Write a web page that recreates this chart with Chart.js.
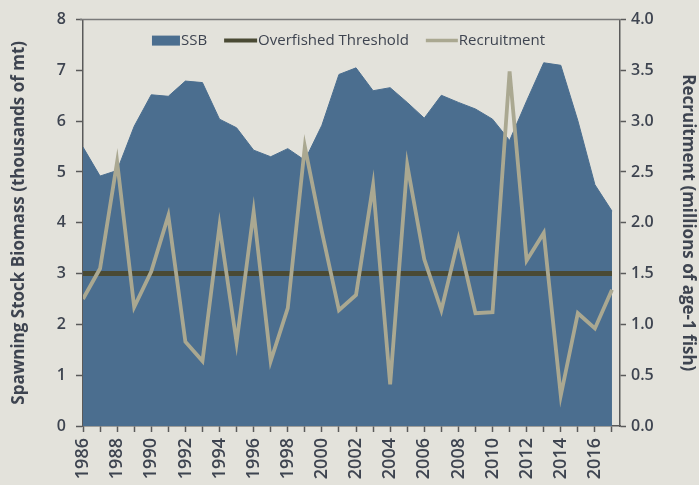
<!DOCTYPE html>
<html lang="en">
  <head>
    <meta charset="UTF-8" />
    <title>Spawning Stock Biomass and Recruitment</title>
    <script src="https://cdn.jsdelivr.net/npm/chart.js"></script>
    <style>
      body {
        margin: 0;
        background-color: #e3e2db;
      }

      .chart-box {
        width: 699px;
        height: 485px;
      }
    </style>
  </head>
  <body>
    <div class="chart-box">
      <canvas id="stockChart" width="699" height="485"></canvas>
    </div>

    <script>
      const years = [
        1986, 1987, 1988, 1989, 1990, 1991, 1992, 1993, 1994, 1995, 1996,
        1997, 1998, 1999, 2000, 2001, 2002, 2003, 2004, 2005, 2006, 2007,
        2008, 2009, 2010, 2011, 2012, 2013, 2014, 2015, 2016, 2017,
      ];

      // thousands of mt
      const ssb = [
        5.49, 4.92, 5.03, 5.9, 6.52, 6.49, 6.79, 6.76, 6.04, 5.87, 5.43,
        5.3, 5.46, 5.23, 5.92, 6.92, 7.05, 6.6, 6.66, 6.37, 6.06, 6.51,
        6.37, 6.24, 6.04, 5.62, 6.4, 7.15, 7.1, 6.01, 4.75, 4.23,
      ];

      // millions of age-1 fish
      const recruitment = [
        1.25, 1.55, 2.6, 1.17, 1.52, 2.07, 0.83, 0.64, 1.97, 0.82, 2.11,
        0.64, 1.16, 2.75, 1.91, 1.14, 1.29, 2.37, 0.41, 2.57, 1.64, 1.14,
        1.84, 1.11, 1.12, 3.49, 1.63, 1.9, 0.3, 1.11, 0.96, 1.34,
      ];

      const overfishedThreshold = years.map(() => 3);

      const textColor = "#3e4450";
      const axisColor = "#5a5a5a";
      const ssbColor = "#4b6e8f";
      const thresholdColor = "#4a4a34";
      const recruitColor = "#aaa891";

      const toPoints = (values) => years.map((yr, i) => ({ x: yr, y: values[i] }));

      // legend drawn inside the plot, swatch right against the label
      const insideLegend = {
        id: "insideLegend",
        afterDraw(chart) {
          const { ctx, chartArea } = chart;
          const items = [
            { text: "SSB", kind: "box", color: ssbColor, w: 28 },
            { text: "Overfished Threshold", kind: "line", color: thresholdColor, w: 33, lw: 4 },
            { text: "Recruitment", kind: "line", color: recruitColor, w: 32, lw: 3.5 },
          ];
          const gap = 17;
          ctx.save();
          ctx.font = "500 15px 'Open Sans'";
          ctx.textBaseline = "middle";
          let total = 0;
          items.forEach((it, i) => {
            it.tw = ctx.measureText(it.text).width;
            total += it.w + 1 + it.tw + (i ? gap : 0);
          });
          let x = (chartArea.left + chartArea.right) / 2 - total / 2 - 3;
          const y = chartArea.top + 21;
          items.forEach((it) => {
            if (it.kind === "box") {
              ctx.fillStyle = it.color;
              ctx.fillRect(x, y - 5, it.w, 10);
            } else {
              ctx.strokeStyle = it.color;
              ctx.lineWidth = it.lw;
              ctx.beginPath();
              ctx.moveTo(x, y);
              ctx.lineTo(x + it.w, y);
              ctx.stroke();
            }
            x += it.w + 1;
            ctx.fillStyle = textColor;
            ctx.fillText(it.text, x, y);
            x += it.tw + gap;
          });

          // top frame line
          ctx.strokeStyle = "#7a7a7a";
          ctx.lineWidth = 1.5;
          ctx.beginPath();
          ctx.moveTo(chartArea.left - 3, chartArea.top);
          ctx.lineTo(chartArea.right, chartArea.top);
          ctx.stroke();
          ctx.restore();
        },
      };

      const tickFont = { family: "'Open Sans'", size: 16, weight: 600 };
      const yearFont = { family: "'Open Sans'", size: 18, weight: 600 };
      const titleFont = { family: "'Open Sans'", size: 17, weight: "bold" };

      new Chart(document.getElementById("stockChart").getContext("2d"), {
        type: "line",
        data: {
          datasets: [
            {
              label: "SSB",
              data: toPoints(ssb),
              yAxisID: "y",
              fill: "origin",
              backgroundColor: ssbColor,
              borderColor: ssbColor,
              borderWidth: 1,
              pointRadius: 0,
              order: 3,
            },
            {
              label: "Overfished Threshold",
              data: toPoints(overfishedThreshold),
              yAxisID: "y",
              borderColor: thresholdColor,
              borderWidth: 5,
              pointRadius: 0,
              order: 2,
            },
            {
              label: "Recruitment",
              data: toPoints(recruitment),
              yAxisID: "y1",
              borderColor: recruitColor,
              borderWidth: 3.8,
              pointRadius: 0,
              order: 1,
            },
          ],
        },
        options: {
          responsive: false,
          animation: false,
          layout: { padding: { top: 15 } },
          plugins: {
            legend: { display: false },
            tooltip: { enabled: false },
          },
          scales: {
            x: {
              type: "linear",
              min: 1986,
              max: 2017.47,
              afterBuildTicks: (scale) => {
                scale.ticks = years.map((yr) => ({ value: yr }));
              },
              afterFit: (scale) => {
                scale.height = 59;
              },
              ticks: {
                autoSkip: false,
                minRotation: 90,
                maxRotation: 90,
                padding: 6,
                color: textColor,
                font: yearFont,
                callback: (v) => (v % 2 === 0 ? String(v) : ""),
              },
              grid: {
                drawOnChartArea: false,
                tickLength: 6,
                tickWidth: 1.5,
                color: axisColor,
              },
              border: { color: axisColor, width: 1.5 },
            },
            y: {
              position: "left",
              min: 0,
              max: 8,
              afterFit: (scale) => {
                scale.width = 83;
              },
              ticks: {
                stepSize: 1,
                padding: 10,
                color: textColor,
                font: tickFont,
              },
              grid: {
                drawOnChartArea: false,
                tickLength: 7,
                tickWidth: 1.5,
                color: axisColor,
              },
              border: { color: axisColor, width: 1.5 },
              title: {
                display: true,
                text: "Spawning Stock Biomass (thousands of mt)",
                color: textColor,
                font: titleFont,
                padding: { top: 9 },
              },
            },
            y1: {
              position: "right",
              min: 0,
              max: 4,
              afterFit: (scale) => {
                scale.width = 79;
              },
              ticks: {
                stepSize: 0.5,
                padding: 5,
                color: textColor,
                font: tickFont,
                callback: (v) => v.toFixed(1),
              },
              grid: {
                drawOnChartArea: false,
                tickLength: 6,
                tickWidth: 1.5,
                color: axisColor,
              },
              border: { color: axisColor, width: 1.5 },
              title: {
                display: true,
                text: "Recruitment (millions of age-1 fish)",
                color: textColor,
                font: titleFont,
                padding: { top: 1 },
              },
            },
          },
        },
        plugins: [insideLegend],
      });
    </script>
  </body>
</html>
